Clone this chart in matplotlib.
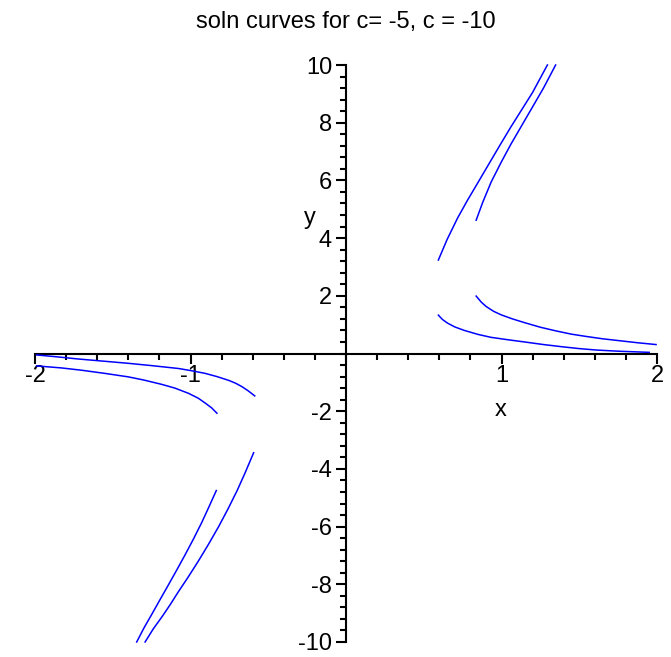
import numpy as np
import matplotlib
matplotlib.use('Agg')
import matplotlib.pyplot as plt
from matplotlib.ticker import MultipleLocator, FixedLocator

plt.rcParams['font.family'] = ['Liberation Sans', 'DejaVu Sans']
plt.rcParams['axes.unicode_minus'] = False

# solution curves (x, y)
# upper right, steep
a_x = [0.594, 0.65, 0.718, 0.78, 0.848, 0.92, 0.99, 1.06, 1.13, 1.2, 1.295]
a_y = [3.24, 3.95, 4.7, 5.3, 5.92, 6.58, 7.22, 7.85, 8.45, 9.05, 10.0]
b_x = [0.837, 0.88, 0.934, 1.0, 1.06, 1.13, 1.2, 1.27, 1.348]
b_y = [4.62, 5.25, 5.95, 6.65, 7.25, 7.9, 8.55, 9.2, 10.0]
# lower right, decaying
c_x = [0.594, 0.62, 0.654, 0.70, 0.761, 0.85, 0.933, 1.05, 1.148, 1.27,
       1.396, 1.5, 1.61, 1.75, 1.95]
c_y = [1.33, 1.18, 1.05, 0.92, 0.80, 0.66, 0.56, 0.47, 0.40, 0.31,
       0.23, 0.17, 0.12, 0.08, 0.04]
d_x = [0.837, 0.87, 0.901, 0.95, 0.998, 1.07, 1.148, 1.25, 1.353, 1.45,
       1.546, 1.65, 1.765, 1.88, 1.994]
d_y = [1.99, 1.78, 1.63, 1.46, 1.34, 1.20, 1.07, 0.91, 0.78, 0.67,
       0.59, 0.51, 0.44, 0.37, 0.31]
# lower left, shallow
e_x = [-1.99, -1.85, -1.723, -1.55, -1.4, -1.25, -1.077, -0.99, -0.905,
       -0.83, -0.755, -0.71, -0.669, -0.63, -0.587]
e_y = [-0.05, -0.12, -0.19, -0.27, -0.34, -0.42, -0.52, -0.60, -0.69,
       -0.80, -0.93, -1.03, -1.15, -1.29, -1.47]
f_x = [-1.99, -1.83, -1.7, -1.55, -1.4, -1.3, -1.185, -1.1, -1.013,
       -0.95, -0.905, -0.865, -0.83]
f_y = [-0.43, -0.50, -0.58, -0.69, -0.81, -0.92, -1.07, -1.20, -1.38,
       -1.55, -1.72, -1.88, -2.07]
# lower left, steep
g_x = [-0.834, -0.88, -0.927, -0.98, -1.035, -1.09, -1.142, -1.2, -1.25,
       -1.3, -1.346]
g_y = [-4.75, -5.3, -5.85, -6.42, -6.98, -7.52, -8.02, -8.57, -9.05,
       -9.52, -10.0]
h_x = [-0.594, -0.65, -0.7, -0.76, -0.819, -0.885, -0.95, -1.015, -1.077,
       -1.13, -1.18, -1.24, -1.292]
h_y = [-3.44, -4.15, -4.75, -5.4, -6.0, -6.62, -7.2, -7.75, -8.25,
       -8.7, -9.1, -9.55, -10.0]

curves = [(a_x, a_y), (b_x, b_y), (c_x, c_y), (d_x, d_y),
          (e_x, e_y), (f_x, f_y), (g_x, g_y), (h_x, h_y)]

xticks = [-2, -1, 1, 2]
yticks = [-10, -8, -6, -4, -2, 2, 4, 6, 8, 10]

fig = plt.figure(figsize=(6.71, 6.57), dpi=100)
ax = fig.add_axes([35 / 671, 15 / 657, 622 / 671, 577 / 657])

for cx, cy in curves:
    ax.plot(cx, cy, color='#0000ff', lw=1.1, zorder=3, clip_on=False)

ax.set_xlim(-2, 2)
ax.set_ylim(-10, 10)

for s in ['top', 'right']:
    ax.spines[s].set_visible(False)
ax.spines['left'].set_position(('data', 0))
ax.spines['bottom'].set_position(('data', 0))
ax.spines['left'].set_linewidth(1.5)
ax.spines['bottom'].set_linewidth(1.5)

ax.xaxis.set_major_locator(FixedLocator(xticks))
ax.yaxis.set_major_locator(FixedLocator(yticks))
ax.xaxis.set_minor_locator(MultipleLocator(0.2))
ax.yaxis.set_minor_locator(MultipleLocator(0.4))
ax.set_xticklabels([str(v) for v in xticks])
ax.set_yticklabels([str(v) for v in yticks])

ax.tick_params(axis='both', which='major', length=7, width=1.5, labelsize=17, pad=1)
ax.tick_params(axis='both', which='minor', length=4, width=1.5)
ax.tick_params(axis='x', direction='out')
ax.tick_params(axis='y', direction='out', pad=3)

ax.set_xlabel('x', fontsize=17, va='center', ha='center')
ax.xaxis.set_label_coords(0.748, 0.402)
ax.set_ylabel('y', fontsize=17, rotation=0, va='center', ha='center')
ax.yaxis.set_label_coords(0.442, 0.735)

fig.text(346 / 671, 1 - 22 / 657, 'soln curves for c= -5, c = -10',
         fontsize=17, ha='center', va='center')

plt.savefig('out.png', dpi=100)
